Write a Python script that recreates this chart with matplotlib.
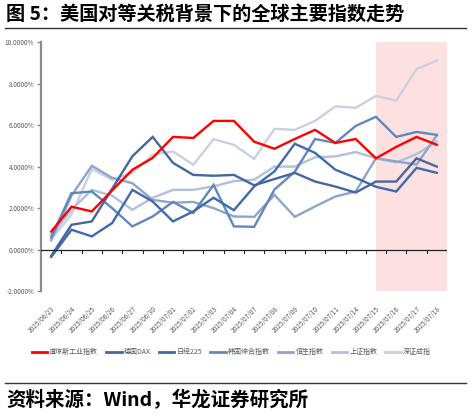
import matplotlib
matplotlib.use('Agg')
import matplotlib.pyplot as plt
from matplotlib.ticker import FuncFormatter
from matplotlib.lines import Line2D

plt.rcParams['font.family'] = ['Noto Sans CJK SC', 'DejaVu Sans']

# Data (daily cumulative change, %)
dates = ['2025/06/23', '2025/06/24', '2025/06/25', '2025/06/26', '2025/06/27',
         '2025/06/30', '2025/07/01', '2025/07/02', '2025/07/03', '2025/07/04',
         '2025/07/07', '2025/07/08', '2025/07/09', '2025/07/10', '2025/07/11',
         '2025/07/14', '2025/07/15', '2025/07/16', '2025/07/17', '2025/07/18']

dow = [0.87, 2.07, 1.84, 2.85, 3.85, 4.42, 5.43, 5.38, 6.2, 6.2,
       5.2, 4.86, 5.33, 5.77, 5.14, 5.33, 4.4, 4.95, 5.43, 5.05]
dax = [-0.3, 1.2, 1.36, 2.93, 4.5, 5.43, 4.18, 3.6, 3.56, 3.6,
       3.1, 3.4, 3.7, 3.28, 3.04, 2.75, 3.28, 3.28, 4.4, 4.0]
nikkei = [-0.35, 0.96, 0.64, 1.28, 2.88, 2.32, 1.36, 1.84, 2.5, 1.9,
          3.04, 3.77, 5.1, 4.66, 3.85, 3.46, 3.03, 2.8, 3.94, 3.7]
kospi = [0.6, 2.72, 2.8, 2.0, 1.12, 1.6, 2.3, 1.77, 3.12, 1.12,
         1.1, 2.9, 3.75, 5.33, 5.14, 5.96, 6.4, 5.43, 5.67, 5.53]
hsi = [0.45, 2.6, 4.04, 3.46, 3.2, 2.4, 2.26, 2.3, 2.0, 1.6,
       1.58, 2.64, 1.58, 2.08, 2.56, 2.8, 4.4, 4.25, 4.1, 5.5]
sse = [0.7, 1.92, 2.88, 2.6, 1.92, 2.5, 2.88, 2.88, 3.05, 3.3,
       3.37, 4.0, 4.0, 4.45, 4.49, 4.7, 4.4, 4.2, 4.6, 5.2]
szse = [0.5, 1.7, 3.88, 3.37, 3.7, 4.57, 4.73, 4.09, 5.32, 5.05,
        4.37, 5.82, 5.77, 6.2, 6.9, 6.83, 7.4, 7.18, 8.7, 9.1]

names = ['道琼斯工业指数', '德国DAX', '日经225', '韩国综合指数', '恒生指数', '上证指数', '深证成指']
series = [dow, dax, nikkei, kospi, hsi, sse, szse]
colors = ['#ff0000', '#45679f', '#3f6aab', '#6287bf', '#8ea5cb', '#b1c0dc', '#c9d0e2']

highlight_from = '2025/07/15'

DPI = 100
fig = plt.figure(figsize=(4.72, 4.16), dpi=DPI)
ax = fig.add_axes([0.087, 0.300, 0.860, 0.599])

x = list(range(len(dates)))
start = dates.index(highlight_from)
ax.axvspan(start, len(dates) - 0.5, color='#fde1e1', zorder=0, lw=0)

# draw lightest first so red sits on top
for name, vals, c in reversed(list(zip(names, series, colors))):
    ax.plot(x, vals, color=c, lw=1.7, zorder=3 if c == '#ff0000' else 2,
            solid_joinstyle='miter')

ax.set_xlim(-0.5, len(dates) - 0.5)
ax.set_ylim(-2, 10)
ax.set_yticks([-2, 0, 2, 4, 6, 8, 10])
ax.yaxis.set_major_formatter(FuncFormatter(lambda v, p: f'{v:.4f}%'))

for s in ['top', 'right', 'bottom']:
    ax.spines[s].set_visible(False)
ax.spines['left'].set_color('#8c8c8c')
ax.spines['left'].set_linewidth(1.6)
ax.tick_params(axis='y', labelsize=4.6, labelcolor='#595959', color='#8c8c8c',
               length=3, width=1.0, pad=2)

# zero line with category-boundary ticks
ax.axhline(0, color='#222222', lw=0.9, zorder=4)
for b in range(1, len(dates) + 1):
    ax.plot([b - 0.5, b - 0.5], [0, -0.15], color='#222222', lw=0.8, zorder=4)

ax.set_xticks(x)
ax.set_xticklabels(dates, rotation=45, ha='right', rotation_mode='anchor',
                   fontsize=4.7, color='#595959')
ax.tick_params(axis='x', length=0, pad=10)

handles = [Line2D([0], [0], color=c, lw=2.0) for c in colors]
fig.legend(handles, names, loc='center', bbox_to_anchor=(0.49, 0.153), ncol=7,
           frameon=False, fontsize=5, handlelength=2.2, handletextpad=0.3,
           columnspacing=1.2, labelcolor='#595959')

# title and source
fig.text(0.013, 0.965, '图 5：美国对等关税背景下的全球主要指数走势', fontsize=13.8,
         fontweight='bold', va='center', ha='left')
fig.add_artist(Line2D([0.011, 0.988], [0.932, 0.932], color='#333333', lw=1.0))
fig.add_artist(Line2D([0.011, 0.988], [0.079, 0.079], color='#333333', lw=1.0))
fig.text(0.013, 0.038, '资料来源：Wind，华龙证券研究所', fontsize=14,
         fontweight='bold', va='center', ha='left')

fig.savefig('out.png', dpi=DPI)
